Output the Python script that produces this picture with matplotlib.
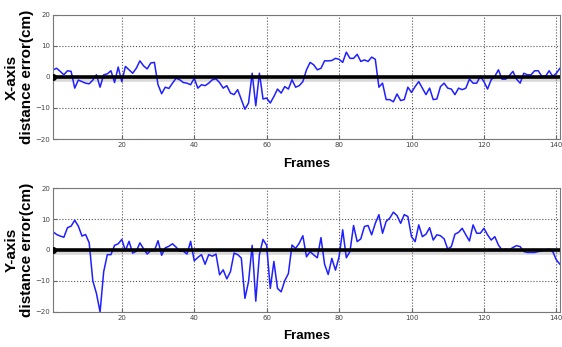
import matplotlib
matplotlib.use("Agg")
import matplotlib.pyplot as plt
import numpy as np

frames = np.arange(1, 142)

# x-axis distance error (cm)
x_err = [2.3, 2.8, 1.8, 0.7, 2.0, 1.8, -3.6, -1.0, -1.5, -2.0,
         -2.2, -1.0, 0.7, -3.3, 0.7, 1.0, 2.0, -1.8, 3.2, -1.5,
         3.4, 2.3, 1.2, 2.8, 5.2, 3.6, 2.6, 4.5, 4.7, -2.5,
         -5.4, -3.3, -3.7, -2.0, -0.4, -0.9, -1.8, -2.0, -2.5, -0.4,
         -3.6, -2.5, -2.8, -2.0, -0.9, -0.6, -1.8, -3.6, -2.8, -5.2,
         -5.7, -4.1, -7.3, -10.4, -8.4, 1.2, -9.3, 1.2, -7.1, -6.8,
         -8.4, -6.3, -3.9, -5.2, -3.1, -3.9, -0.9, -3.3, -2.8, -1.5,
         2.3, 4.7, 3.9, 2.3, 2.8, 5.2, 5.2, 5.3, 6.0, 5.7,
         4.7, 8.0, 6.0, 6.0, 7.3, 5.0, 5.5, 5.0, 6.4, 5.7,
         -3.3, -2.0, -7.3, -7.3, -8.0, -5.5, -7.6, -7.3, -3.3, -5.0,
         -3.1, -1.5, -3.6, -5.7, -3.6, -7.3, -7.1, -3.1, -2.0, -3.6,
         -3.9, -5.7, -3.6, -4.1, -3.6, -0.7, -2.0, -2.0, 0.2, -1.5,
         -3.9, -0.9, 0.2, 2.3, -0.7, -0.7, 0.4, 1.8, -0.7, -2.0,
         1.2, 0.7, 0.7, 2.0, 2.0, 0.2, 0.2, 2.0, 0.2, 1.2,
         2.8]

# y-axis distance error (cm)
y_err = [5.9, 5.0, 4.5, 4.1, 7.2, 7.7, 9.6, 7.7, 4.5, 5.0,
         2.3, -10.0, -14.0, -20.0, -7.0, -1.5, -1.5, 1.5, 2.0, 3.4,
         -0.2, 2.8, -1.0, -0.4, 2.3, 0.4, -1.3, -0.2, -0.2, 3.0,
         -1.7, 0.7, 1.2, 2.0, 0.9, -0.4, -0.4, -1.3, 2.8, -3.5,
         -2.4, -1.5, -4.6, -1.5, -2.0, -1.3, -8.0, -6.4, -9.3, -7.0,
         -1.0, -1.5, -2.6, -15.6, -10.2, 1.5, -16.5, -1.5, 3.4, 1.5,
         -12.4, -3.7, -12.4, -13.5, -9.9, -7.6, 1.6, 0.5, 2.2, 4.6,
         -2.2, -0.5, -1.6, -2.5, 4.0, -4.6, -7.9, -2.7, -6.5, -2.2,
         6.5, -2.5, -0.5, 7.9, 2.7, 3.6, 7.6, 7.9, 4.9, 8.6,
         11.4, 5.4, 9.2, 10.3, 12.2, 11.1, 8.6, 11.4, 10.8, 4.3,
         2.7, 8.1, 4.3, 5.1, 7.2, 3.2, 4.9, 4.6, 3.6, 0.3,
         1.1, 5.1, 5.7, 7.0, 4.9, 2.9, 8.1, 5.4, 5.4, 7.0,
         4.9, 3.2, 4.3, 1.6, 0.0, 0.3, 0.0, 0.8, 1.4, 1.1,
         -0.5, -0.8, -0.8, -0.8, -0.5, -0.3, 0.0, 0.3, -0.5, -3.2,
         -4.6]

ylabels = ["X-axis\ndistance error(cm)", "Y-axis\ndistance error(cm)"]
xticks = [20, 40, 60, 80, 100, 120, 140]
yticks = [-20, -10, 0, 10, 20]

fig = plt.figure(figsize=(5.62, 3.47), dpi=100)
fig.patch.set_facecolor("white")

ax_top = fig.add_axes([0.0943, 0.5994, 0.9021, 0.3576])
ax_bot = fig.add_axes([0.0943, 0.1009, 0.9021, 0.3573])

for ax, data, lab in zip([ax_top, ax_bot], [x_err, y_err], ylabels):
    zero = np.zeros(len(frames))
    ax.plot(frames, zero - 0.8, color="#d9d9d9", lw=4, zorder=1)
    ax.plot(frames, data, color="#1f1fff", lw=1.1, zorder=2)
    ax.plot(frames, zero, color="black", lw=2.6, zorder=3,
            marker="o", markersize=4, markevery=[0])
    ax.set_xlim(1, 141)
    ax.set_ylim(-20, 20)
    ax.set_xticks(xticks)
    ax.set_yticks(yticks)
    ax.grid(True, linestyle=":", color="#555555", lw=0.8)
    ax.tick_params(direction="in", length=3, labelsize=5,
                   labelcolor="#444444", color="#666666", pad=2)
    for s in ax.spines.values():
        s.set_color("#777777")
        s.set_linewidth(0.8)
    ax.set_ylabel(lab, fontsize=11, fontweight="bold",
                  family="Liberation Sans", linespacing=1.1)
    ax.yaxis.set_label_coords(-0.037, 0.5)
    ax.set_xlabel("Frames", fontsize=9.5, fontweight="bold",
                  family="Liberation Sans", labelpad=7)

fig.savefig("out.png", dpi=100)
